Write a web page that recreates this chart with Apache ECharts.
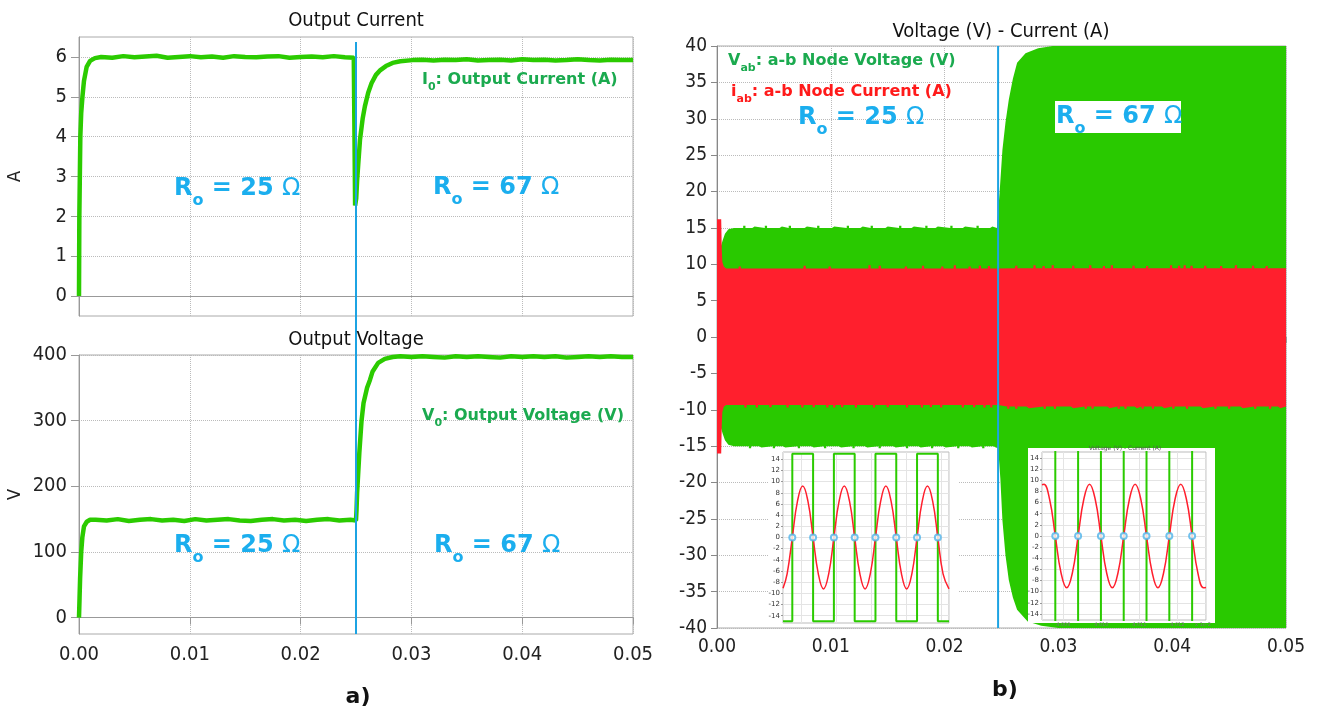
<!DOCTYPE html>
<html><head><meta charset="utf-8">
<script src="https://cdn.jsdelivr.net/npm/echarts@6/dist/echarts.min.js"></script>
<style>html,body{margin:0;padding:0;background:#fff}#c{width:1320px;height:710px}</style>
</head><body><div id="c"></div>
<script>
// ---------- tick labels ----------
const xTicks = [0, 0.01, 0.02, 0.03, 0.04, 0.05];
const currentTicks = [0, 1, 2, 3, 4, 5, 6];
const voltageTicks = [0, 100, 200, 300, 400];
const insetTicks = [-14, -12, -10, -8, -6, -4, -2, 0, 2, 4, 6, 8, 10, 12, 14];
const inset2TimeTicks = [4.009, 4.010, 4.011, 4.012];

// ---------- load-step instants ----------
const stepTimeA = 0.025;   // left plots
const stepTimeB = 0.0247;  // right plot

// ---------- a) output current (t [s], A) ----------
const outCurrent = [
  [0,0],[0.00003,2.0],[0.00012,4.0],[0.0002,4.6],[0.00031,5.0],[0.00045,5.4],[0.00069,5.75],[0.001,5.9],[0.00144,5.97],
  [0.002,6.00],[0.003,5.98],[0.004,6.02],[0.005,5.99],[0.006,6.01],[0.007,6.03],[0.008,5.98],[0.009,6.00],[0.010,6.02],
  [0.011,5.99],[0.012,6.01],[0.013,5.98],[0.014,6.02],[0.015,6.00],[0.016,5.99],[0.017,6.01],[0.018,6.02],[0.019,5.98],
  [0.020,6.00],[0.021,6.01],[0.022,5.99],[0.023,6.02],[0.024,5.99],[0.0248,5.98],[0.0249,5.97],
  [0.02492,2.27],[0.02502,2.45],[0.0251,2.9],[0.0252,3.3],[0.02536,3.92],[0.0256,4.45],[0.0258,4.76],[0.0261,5.1],
  [0.0264,5.34],[0.0268,5.55],[0.0272,5.67],[0.0277,5.77],[0.0283,5.85],[0.029,5.89],[0.0301,5.92],
  [0.031,5.93],[0.032,5.91],[0.033,5.93],[0.034,5.92],[0.035,5.94],[0.036,5.91],[0.037,5.92],[0.038,5.93],[0.039,5.91],
  [0.040,5.94],[0.041,5.92],[0.042,5.93],[0.043,5.91],[0.044,5.92],[0.045,5.94],[0.046,5.92],[0.047,5.91],[0.048,5.93],
  [0.049,5.92],[0.050,5.92]
];

// ---------- a) output voltage (t [s], V) ----------
const outVoltage = [
  [0,0],[0.00005,30],[0.0001,60],[0.0002,100],[0.0003,122],[0.00045,139],[0.0007,146],[0.001,149],
  [0.0015,149],[0.0025,148],[0.0035,150],[0.0045,147],[0.0055,149],[0.0065,150],[0.0075,148],[0.0085,149],[0.0095,147],
  [0.0105,150],[0.0115,148],[0.0125,149],[0.0135,150],[0.0145,148],[0.0155,147],[0.0165,149],[0.0175,150],[0.0185,148],
  [0.0195,149],[0.0205,147],[0.0215,149],[0.0225,150],[0.0235,148],[0.0245,149],[0.025,148],
  [0.02505,165],[0.0251,190],[0.0253,251],[0.0255,300],[0.02568,327],[0.026,350],[0.02626,362],[0.0265,375],[0.027,388],
  [0.0276,394],[0.0283,397],[0.029,398],[0.030,397],[0.031,398],[0.032,397],[0.033,396],[0.034,398],[0.035,397],[0.036,398],
  [0.037,397],[0.038,396],[0.039,398],[0.040,397],[0.041,398],[0.042,397],[0.043,398],[0.044,396],[0.045,397],[0.046,398],
  [0.047,397],[0.048,398],[0.049,397],[0.050,397]
];

// ---------- b) a-b node voltage envelope (t [s], V) ----------
const vabUpper = [[0.0003,10],[0.00035,12.5],[0.0005,13.3],[0.0007,14.2],[0.001,14.8],[0.0015,15.0],[0.0246,15.0],
  [0.02471,15.2],[0.02483,19.8],[0.02508,25.7],[0.02535,29.5],[0.02564,32.6],[0.026,35.5],[0.02637,37.7],[0.02711,39.0],
  [0.02822,39.7],[0.0295,40],[0.05,40]];
const vabUpperNotches = [[0.0023,15.0,15.3],[0.0031,15.0,15.2],[0.0042,15.0,15.3],[0.0055,15.0,15.2],[0.0063,15.0,15.3],
  [0.0077,15.0,15.2],[0.0088,15.0,15.3],[0.0101,15.0,15.2],[0.0114,15.0,15.3],[0.0126,15.0,15.2],[0.0135,15.0,15.3],
  [0.0148,15.0,15.2],[0.0160,15.0,15.3],[0.0171,15.0,15.2],[0.0183,15.0,15.3],[0.0192,15.0,15.2],[0.0205,15.0,15.3],
  [0.0216,15.0,15.2],[0.0228,15.0,15.3],[0.0240,15.0,15.2]];
const vabLower = [[0.0003,-10],[0.00035,-12.5],[0.0005,-13.3],[0.0007,-14.2],[0.001,-14.8],[0.0015,-15.0],[0.0246,-15.1],
  [0.02471,-15.3],[0.0249,-19.5],[0.02508,-25.2],[0.02535,-30],[0.02564,-33.4],[0.026,-35.8],[0.02637,-37.5],[0.0273,-39.1],
  [0.0285,-39.7],[0.030,-40],[0.05,-40]];
const vabLowerNotches = [[0.0028,-15.0,-15.3],[0.0037,-15.0,-15.2],[0.0049,-15.0,-15.3],[0.0058,-15.0,-15.2],[0.0071,-15.0,-15.3],
  [0.0083,-15.0,-15.2],[0.0094,-15.0,-15.3],[0.0107,-15.0,-15.2],[0.0119,-15.0,-15.3],[0.0130,-15.0,-15.2],[0.0142,-15.0,-15.3],
  [0.0155,-15.0,-15.2],[0.0166,-15.0,-15.3],[0.0177,-15.0,-15.2],[0.0188,-15.0,-15.3],[0.0199,-15.0,-15.2],[0.0211,-15.0,-15.3],
  [0.0222,-15.0,-15.2],[0.0233,-15.0,-15.3],[0.0243,-15.0,-15.2]];

// ---------- b) a-b node current envelope (t [s], A) ----------
const iabUpper = [[0,16.2],[0.00037,16.2],[0.00042,12],[0.00047,10.3],[0.0006,9.7],[0.0008,9.4],[0.0247,9.4],[0.0248,9.45],[0.05,9.45]];
const iabUpperNotches = [[0.0019,9.4,9.7],[0.0076,9.4,9.8],[0.0098,9.4,9.7],[0.0133,9.4,9.85],[0.0142,9.4,9.8],[0.0165,9.4,9.7],
  [0.0180,9.4,9.8],[0.0197,9.4,9.7],[0.0208,9.4,9.85],[0.0221,9.4,9.7],[0.0230,9.4,9.8],[0.0238,9.4,9.75],
  [0.0262,9.45,9.8],[0.0278,9.45,9.85],[0.0286,9.45,9.75],[0.0294,9.45,9.85],[0.0312,9.45,9.8],[0.0327,9.45,9.85],
  [0.0339,9.45,9.75],[0.0346,9.45,9.85],[0.0365,9.45,9.8],[0.0377,9.45,9.75],[0.0398,9.45,9.85],[0.0405,9.45,9.8],
  [0.0410,9.45,9.85],[0.0416,9.45,9.8],[0.0428,9.45,9.8],[0.0442,9.45,9.75],[0.0455,9.45,9.85],[0.0470,9.45,9.8],[0.0482,9.45,9.75]];
const iabLower = [[0,-16],[0.00037,-16],[0.00042,-12],[0.00047,-10.3],[0.0006,-9.6],[0.0008,-9.35],[0.0247,-9.35],[0.0248,-9.55],[0.05,-9.55]];
const iabLowerNotches = [[0.0024,-9.35,-9.7],[0.0034,-9.35,-9.7],[0.0046,-9.35,-9.65],[0.0061,-9.35,-9.7],[0.0074,-9.35,-9.7],
  [0.0084,-9.35,-9.65],[0.0096,-9.35,-9.7],[0.0102,-9.35,-9.7],[0.0109,-9.35,-9.65],[0.0121,-9.35,-9.7],[0.0137,-9.35,-9.7],
  [0.0149,-9.35,-9.65],[0.0166,-9.35,-9.7],[0.0179,-9.35,-9.7],[0.0187,-9.35,-9.65],[0.0196,-9.35,-9.7],[0.0215,-9.35,-9.7],
  [0.0225,-9.35,-9.65],[0.0234,-9.35,-9.7],[0.0240,-9.35,-9.7],
  [0.0255,-9.55,-9.85],[0.0262,-9.55,-9.85],[0.0272,-9.55,-9.8],[0.0287,-9.55,-9.85],[0.0296,-9.55,-9.85],[0.0311,-9.55,-9.8],
  [0.0323,-9.55,-9.85],[0.0329,-9.55,-9.85],[0.0343,-9.55,-9.8],[0.0352,-9.55,-9.85],[0.0358,-9.55,-9.85],[0.0367,-9.55,-9.8],
  [0.0373,-9.55,-9.85],[0.0382,-9.55,-9.85],[0.0391,-9.55,-9.8],[0.0400,-9.55,-9.85],[0.0412,-9.55,-9.85],[0.0425,-9.55,-9.8],
  [0.0437,-9.55,-9.85],[0.0449,-9.55,-9.85],[0.0460,-9.55,-9.8],[0.0472,-9.55,-9.85],[0.0485,-9.55,-9.85],[0.0493,-9.55,-9.8]];
const NOTCH_W = 0.0002;

// ---------- inset 1 (zoom, R = 25 ohm): time in arbitrary units ----------
const inset1Square = [[0.466,-15],[0.732,-15],[0.732,15],[1.326,15],[1.326,-15],[1.920,-15],[1.920,15],[2.514,15],[2.514,-15],
  [3.108,-15],[3.108,15],[3.702,15],[3.702,-15],[4.296,-15],[4.296,15],[4.890,15],[4.890,-15],[5.209,-15]];
const inset1Current = [[0.466,-9.1],[0.584,-6.5],[0.732,0],[0.880,6.5],[1.029,9.2],[1.178,6.5],[1.326,0],[1.475,-6.5],[1.623,-9.2],
  [1.772,-6.5],[1.920,0],[2.069,6.5],[2.217,9.2],[2.366,6.5],[2.514,0],[2.663,-6.5],[2.811,-9.2],[2.960,-6.5],[3.108,0],
  [3.257,6.5],[3.405,9.2],[3.554,6.5],[3.702,0],[3.851,-6.5],[3.999,-9.2],[4.148,-6.5],[4.296,0],[4.445,6.5],[4.593,9.2],
  [4.742,6.5],[4.890,0],[5.039,-6.5],[5.209,-9.2]];
const inset1Zero = [[0.732,0],[1.326,0],[1.920,0],[2.514,0],[3.108,0],[3.702,0],[4.296,0],[4.890,0]];

// ---------- inset 2 (zoom, R = 67 ohm): time in 1e-2 s ----------
const inset2Square = [[4.00844,40],[4.00879,40],[4.00879,-40],[4.00939,-40],[4.00939,40],[4.00999,40],[4.00999,-40],
  [4.01059,-40],[4.01059,40],[4.01119,40],[4.01119,-40],[4.01179,-40],[4.01179,40],[4.01239,40],[4.01239,-40],[4.012755,-40]];
const inset2Current = [[4.00844,9.2],[4.00849,9.3],[4.00864,6.6],[4.00879,0],[4.00894,-6.6],[4.00909,-9.3],[4.00924,-6.6],
  [4.00939,0],[4.00954,6.6],[4.00969,9.3],[4.00984,6.6],[4.00999,0],[4.01014,-6.6],[4.01029,-9.3],[4.01044,-6.6],[4.01059,0],
  [4.01074,6.6],[4.01089,9.3],[4.01104,6.6],[4.01119,0],[4.01134,-6.6],[4.01149,-9.3],[4.01164,-6.6],[4.01179,0],[4.01194,6.6],
  [4.01209,9.3],[4.01224,6.6],[4.01239,0],[4.01254,-6.6],[4.01269,-9.3],[4.012755,-9.25]];
const inset2Zero = [[4.00879,0],[4.00939,0],[4.00999,0],[4.01059,0],[4.01119,0],[4.01179,0],[4.01239,0]];

// ---------- styles ----------
const FC = '"DejaVu Sans Condensed","Liberation Sans Narrow","DejaVu Sans",sans-serif';
const FA = '"DejaVu Sans",Verdana,sans-serif';
const GREEN = '#2BCB00', GREEN_FILL = '#29C900', GREEN_TXT = '#1BAA4F';
const RED = '#FF1F2D', RED_TXT = '#FF1A1A';
const BLUE_LINE = '#1CA3E3', BLUE_TXT = '#1BAEEE';
const AX = '#999', GRIDC = '#bbb';

function withNotches(base, notches) {
  const groups = base.map(p => [[p[0], p[1]]]);
  notches.forEach(n => groups.push([[n[0], n[1]], [n[0], n[2]], [n[0] + NOTCH_W, n[2]], [n[0] + NOTCH_W, n[1]]]));
  groups.sort((a, b) => a[0][0] - b[0][0]);
  return [].concat(...groups);
}

const chart = echarts.init(document.getElementById('c'), null, {renderer: 'canvas'});

function mainX(idx, showLabels, tickLen, margin, fs) {
  return {
    type: 'value', gridIndex: idx, min: 0, max: 0.05, interval: 0.01,
    axisLine: {show: true, lineStyle: {color: AX}},
    axisTick: {show: showLabels, length: tickLen, lineStyle: {color: AX}},
    axisLabel: {show: showLabels, margin: margin, fontSize: fs, fontFamily: FC, color: '#222',
      formatter: v => v.toFixed(2)},
    splitLine: {show: true, lineStyle: {color: GRIDC, type: 'dotted'}}
  };
}

const insetAxisY = (idx, lim) => ({
  type: 'value', gridIndex: idx, min: -lim, max: lim, splitNumber: 15, z: 20,
  axisLine: {show: false},
  axisTick: {show: true, length: 2, lineStyle: {color: '#999'}, customValues: insetTicks},
  axisLabel: {fontSize: 7, margin: 3, color: '#333', fontFamily: FA, customValues: insetTicks},
  splitLine: {show: true, lineStyle: {color: '#e4e4e4', width: 1}}
});

const option = {
  animation: false,
  backgroundColor: '#fff',
  grid: [
    {left: 79, top: 37, width: 554, height: 279, show: true, borderColor: '#aaa', borderWidth: 1},
    {left: 79, top: 355, width: 554, height: 279, show: true, borderColor: '#aaa', borderWidth: 1},
    {left: 717, top: 46, width: 569, height: 582, show: true, borderColor: '#aaa', borderWidth: 1},
    {left: 783, top: 452, width: 166, height: 171, show: true, borderColor: '#bbb', borderWidth: 1, z: 20},
    {left: 1042, top: 452, width: 164, height: 168, show: true, borderColor: '#bbb', borderWidth: 1, z: 20}
  ],
  xAxis: [
    mainX(0, false, 0, 0, 20),
    mainX(1, true, 7, 11, 20),
    mainX(2, true, 6, 10, 19),
    {type: 'value', gridIndex: 3, min: 0.466, max: 5.209, z: 20, axisLine: {show: false}, axisTick: {show: false},
      axisLabel: {show: false}, splitLine: {show: true, lineStyle: {color: '#e4e4e4'}}},
    {type: 'value', gridIndex: 4, min: 4.00844, max: 4.012755, z: 20, axisLine: {show: false}, axisTick: {show: false},
      axisLabel: {show: true, fontSize: 5, margin: 2, color: '#777', fontFamily: FA, customValues: inset2TimeTicks,
        formatter: v => v.toFixed(3)},
      splitLine: {show: true, lineStyle: {color: '#e4e4e4'}}}
  ],
  yAxis: [
    {type: 'value', gridIndex: 0, min: -0.5, max: 6.5, splitNumber: 7,
      name: 'A', nameLocation: 'middle', nameRotate: 90, nameGap: 55,
      nameTextStyle: {fontSize: 18, fontFamily: FC, color: '#222'},
      axisLine: {show: true, lineStyle: {color: AX}},
      axisTick: {show: true, length: 8, lineStyle: {color: AX}, customValues: currentTicks},
      axisLabel: {fontSize: 20, fontFamily: FC, color: '#222', margin: 12, customValues: currentTicks},
      splitLine: {show: true, lineStyle: {color: GRIDC, type: 'dotted'}}},
    {type: 'value', gridIndex: 1, min: -25, max: 400,
      name: 'V', nameLocation: 'middle', nameRotate: 90, nameGap: 55,
      nameTextStyle: {fontSize: 18, fontFamily: FC, color: '#222'},
      axisLine: {show: true, lineStyle: {color: AX}},
      axisTick: {show: true, length: 8, lineStyle: {color: AX}, customValues: voltageTicks},
      axisLabel: {fontSize: 20, fontFamily: FC, color: '#222', margin: 12, customValues: voltageTicks},
      splitLine: {show: true, lineStyle: {color: GRIDC, type: 'dotted'}}},
    {type: 'value', gridIndex: 2, min: -40, max: 40, interval: 5,
      axisLine: {show: true, lineStyle: {color: '#888'}},
      axisTick: {show: true, length: 6, lineStyle: {color: '#888'}},
      axisLabel: {fontSize: 19, fontFamily: FC, color: '#222', margin: 10},
      splitLine: {show: true, lineStyle: {color: GRIDC, type: 'dotted'}}},
    insetAxisY(3, 15.3),
    insetAxisY(4, 15.1)
  ],
  series: [
    {type: 'line', xAxisIndex: 0, yAxisIndex: 0, data: outCurrent, showSymbol: false, symbol: 'none',
      lineStyle: {color: GREEN, width: 4.5}},
    {type: 'line', xAxisIndex: 1, yAxisIndex: 1, data: outVoltage, showSymbol: false, symbol: 'none',
      lineStyle: {color: GREEN, width: 4.5}},
    {type: 'line', xAxisIndex: 2, yAxisIndex: 2, data: withNotches(vabUpper, vabUpperNotches), symbol: 'none',
      lineStyle: {width: 0, color: GREEN_FILL}, areaStyle: {color: GREEN_FILL, opacity: 1, origin: 0}},
    {type: 'line', xAxisIndex: 2, yAxisIndex: 2, data: withNotches(vabLower, vabLowerNotches), symbol: 'none',
      lineStyle: {width: 0, color: GREEN_FILL}, areaStyle: {color: GREEN_FILL, opacity: 1, origin: 0}},
    {type: 'line', xAxisIndex: 2, yAxisIndex: 2, data: withNotches(iabUpper, iabUpperNotches), symbol: 'none',
      lineStyle: {width: 0, color: RED}, areaStyle: {color: RED, opacity: 1, origin: 0}},
    {type: 'line', xAxisIndex: 2, yAxisIndex: 2, data: withNotches(iabLower, iabLowerNotches), symbol: 'none',
      lineStyle: {width: 0, color: RED}, areaStyle: {color: RED, opacity: 1, origin: 0}},
    {type: 'line', xAxisIndex: 3, yAxisIndex: 3, data: inset1Square, symbol: 'none', z: 20,
      lineStyle: {color: GREEN, width: 2}},
    {type: 'line', xAxisIndex: 3, yAxisIndex: 3, data: inset1Current, symbol: 'none', smooth: 0.45, z: 21,
      lineStyle: {color: RED, width: 1.5}},
    {type: 'scatter', xAxisIndex: 3, yAxisIndex: 3, data: inset1Zero, symbol: 'emptyCircle', symbolSize: 6, z: 22,
      itemStyle: {color: '#4FB3EA', borderWidth: 1.2}},
    {type: 'line', xAxisIndex: 4, yAxisIndex: 4, data: inset2Square, symbol: 'none', z: 20,
      lineStyle: {color: GREEN, width: 2}},
    {type: 'line', xAxisIndex: 4, yAxisIndex: 4, data: inset2Current, symbol: 'none', smooth: 0.45, z: 21,
      lineStyle: {color: RED, width: 1.5}},
    {type: 'scatter', xAxisIndex: 4, yAxisIndex: 4, data: inset2Zero, symbol: 'emptyCircle', symbolSize: 6, z: 22,
      itemStyle: {color: '#4FB3EA', borderWidth: 1.2}}
  ]
};
chart.setOption(option);

// ---------- texts and overlays ----------
function txt(x, y, text, size, opts) {
  return Object.assign({type: 'text', z: 30, silent: true,
    style: Object.assign({x: x, y: y, text: text, fontSize: size, fontFamily: FC, fill: '#111',
      align: 'center', verticalAlign: 'middle'}, (opts || {}))});
}
function ro(x, y, value) {
  const b = {fontSize: 24, fontWeight: 'bold', fontFamily: FA, fill: BLUE_TXT, lineHeight: 40};
  return {type: 'text', z: 30, silent: true, style: {x: x, y: y, align: 'left', verticalAlign: 'middle',
    text: '{r|R}{s|o}{r| = ' + value + ' }{w|Ω}',
    rich: {r: b, s: {fontSize: 16, fontWeight: 'bold', fontFamily: FA, fill: BLUE_TXT, lineHeight: 16, verticalAlign: 'bottom'},
      w: {fontSize: 24, fontWeight: 'normal', fontFamily: FA, fill: BLUE_TXT, lineHeight: 40}}}};
}
function lbl(x, y, main, sub, rest, color) {
  return {type: 'text', z: 30, silent: true, style: {x: x, y: y, align: 'left', verticalAlign: 'middle',
    text: '{m|' + main + '}{s|' + sub + '}{m|' + rest + '}',
    rich: {m: {fontSize: 16, fontWeight: 'bold', fontFamily: FA, fill: color, lineHeight: 26},
      s: {fontSize: 11, fontWeight: 'bold', fontFamily: FA, fill: color, lineHeight: 11, verticalAlign: 'bottom'}}}};
}

const bxA = chart.convertToPixel({xAxisIndex: 0}, stepTimeA);
const bxB = chart.convertToPixel({xAxisIndex: 2}, stepTimeB);
const yTopB = chart.convertToPixel({yAxisIndex: 2}, 40);
const yBotB = chart.convertToPixel({yAxisIndex: 2}, -40);
chart.setOption({graphic: {elements: [
  {type: 'line', z: 5, silent: true, shape: {x1: bxA, y1: 42, x2: bxA, y2: 634}, style: {stroke: BLUE_LINE, lineWidth: 2}},
  {type: 'line', z: 5, silent: true, shape: {x1: bxB, y1: yTopB, x2: bxB, y2: yBotB}, style: {stroke: BLUE_LINE, lineWidth: 2}},
  {type: 'rect', z: 10, silent: true, shape: {x: 768, y: 449, width: 190, height: 178}, style: {fill: '#fff'}},
  {type: 'rect', z: 10, silent: true, shape: {x: 1028, y: 448, width: 187, height: 175}, style: {fill: '#fff'}},
  {type: 'rect', z: 11, silent: true, shape: {x: 1055, y: 101, width: 126, height: 32}, style: {fill: '#fff'}},
  txt(356, 21, 'Output Current', 20),
  txt(356, 340, 'Output Voltage', 20),
  txt(1001, 32, 'Voltage (V) - Current (A)', 20),
  txt(1125, 448, 'Voltage (V) - Current (A)', 6, {fill: '#555', fontFamily: FA}),
  txt(1203, 625, 'x 1e-2', 5, {fill: '#777', fontFamily: FA}),
  txt(358, 697, 'a)', 22, {fontFamily: FA, fontWeight: 'bold'}),
  txt(1005, 690, 'b)', 22, {fontFamily: FA, fontWeight: 'bold'}),
  ro(174, 189, '25'), ro(433, 188, '67'),
  ro(174, 546, '25'), ro(434, 546, '67'),
  ro(798, 118, '25'), ro(1056, 117, '67'),
  lbl(422, 80, 'I', '0', ': Output Current (A)', GREEN_TXT),
  lbl(422, 416, 'V', '0', ': Output Voltage (V)', GREEN_TXT),
  lbl(728, 61, 'V', 'ab', ': a-b Node Voltage (V)', GREEN_TXT),
  lbl(731, 92, 'i', 'ab', ': a-b Node Current (A)', RED_TXT)
]}});
</script></body></html>
